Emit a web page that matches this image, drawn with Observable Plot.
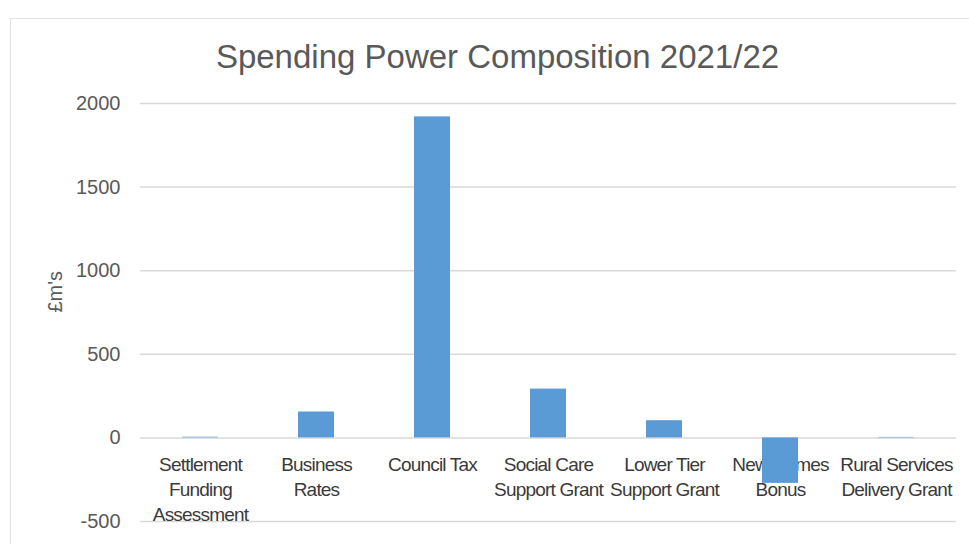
<!DOCTYPE html>
<html>
<head>
<meta charset="utf-8">
<script src="https://cdn.jsdelivr.net/npm/d3@7"></script>
<script src="https://cdn.jsdelivr.net/npm/@observablehq/plot@0.6"></script>
<style>
  html, body { margin: 0; padding: 0; background: #fff; }
  body { width: 969px; height: 544px; overflow: hidden; position: relative; font-family: "Liberation Sans", Arial, sans-serif; }
  #frame { position: absolute; left: 10px; top: 18px; width: 990px; height: 600px; border: 1px solid #e3e3e3; }
  #title { position: absolute; left: 0; top: 37px; width: 995px; text-align: center; font-size: 33px; line-height: 40px; color: #595959; }
  #chart { position: absolute; left: 0; top: 80px; }
  #chart svg g.xlabels text { letter-spacing: -0.8px; }
</style>
</head>
<body>
<div id="frame"></div>
<div id="title">Spending Power Composition 2021/22</div>
<div id="chart"></div>
<script>
const categories = [
  "Settlement Funding Assessment",
  "Business Rates",
  "Council Tax",
  "Social Care Support Grant",
  "Lower Tier Support Grant",
  "New Homes Bonus",
  "Rural Services Delivery Grant"
];
const tickLabels = [
  "Settlement\nFunding\nAssessment",
  "Business\nRates",
  "Council Tax",
  "Social Care\nSupport Grant",
  "Lower Tier\nSupport Grant",
  "New Homes\nBonus",
  "Rural Services\nDelivery Grant"
];
const values = [4, 155, 1920, 292, 103, -272, 3];
const yTicks = [-500, 0, 500, 1000, 1500, 2000];
const yLabel = "£m's";

const data = categories.map((c, i) => ({category: c, label: tickLabels[i], value: values[i]}));

const chart = Plot.plot({
  width: 969,
  height: 464,
  marginLeft: 140,
  marginRight: 13,
  marginTop: 23,
  marginBottom: 23,
  style: {fontFamily: "'Liberation Sans', Arial, sans-serif", background: "none", overflow: "visible"},
  x: {domain: categories, paddingInner: 0.69, paddingOuter: 0.34, axis: null},
  y: {domain: [-500, 2000], axis: null},
  marks: [
    Plot.ruleY(yTicks, {stroke: "#d9d9d9", strokeWidth: 1.5}),
    Plot.axisY({ticks: yTicks, tickFormat: d => String(d), tickSize: 0, tickPadding: 20, fontSize: 20, fill: "#595959", label: null}),
    Plot.text([yLabel], {frameAnchor: "left", dx: -85, rotate: -90, fontSize: 20, fill: "#595959"}),
    Plot.text(data, {x: "category", y: () => 0, text: "label", lineAnchor: "top", dy: 16, lineHeight: 1.3, fontSize: 19, fill: "#3a3a3a", className: "xlabels"}),
    Plot.barY(data, {x: "category", y: "value", fill: "#5b9bd5"})
  ]
});
// tag the category label group for letter-spacing
d3.select(chart).selectAll("g[aria-label='text']").filter(function() {
  return d3.select(this).selectAll("text").size() === tickLabels.length;
}).classed("xlabels", true);
document.getElementById("chart").appendChild(chart);
</script>
</body>
</html>
